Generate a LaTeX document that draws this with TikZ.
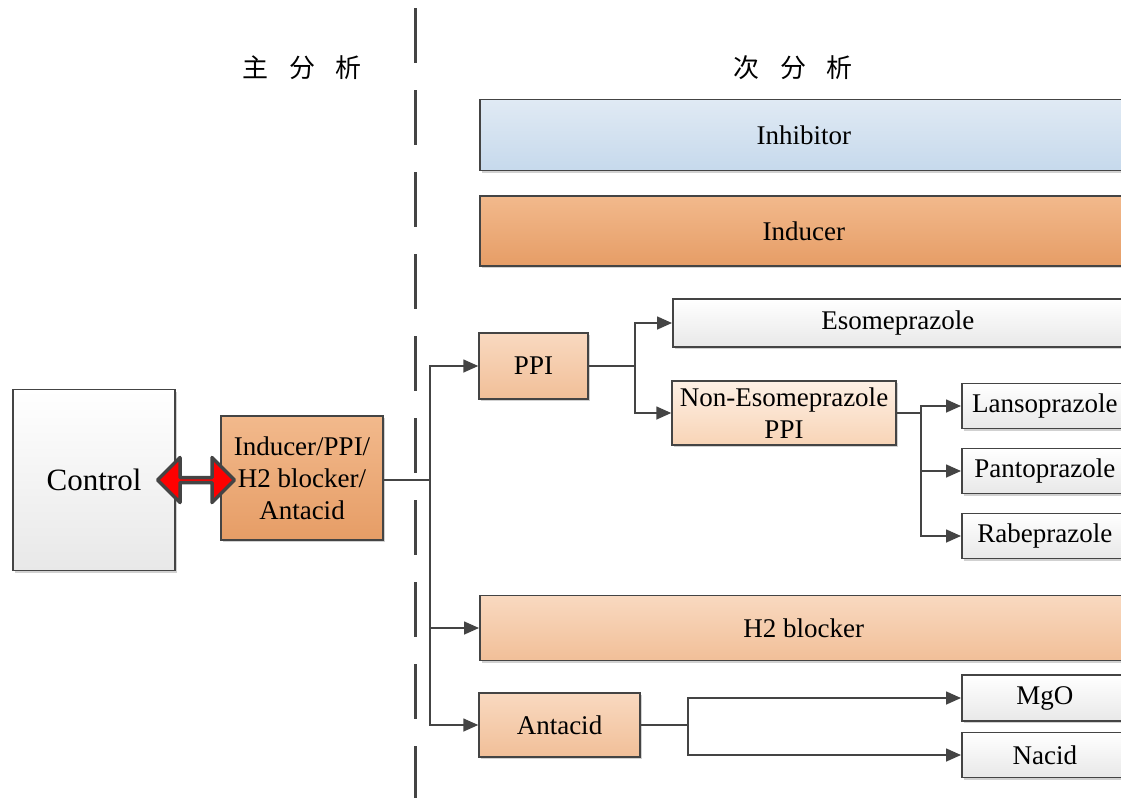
\documentclass[tikz,border=0pt]{standalone}
\usepackage{fontspec}
\setmainfont{Liberation Serif}
\newfontfamily\cjk[WordSpace=3.5]{Noto Sans CJK SC}
\usetikzlibrary{arrows.meta,shapes.arrows,shadows}
\definecolor{lineg}{HTML}{444444}
\definecolor{blueT}{HTML}{E0EAF4}
\definecolor{blueB}{HTML}{C6D9EC}
\definecolor{darkT}{HTML}{F2B98C}
\definecolor{darkB}{HTML}{E69D66}
\definecolor{midT}{HTML}{F9D9C0}
\definecolor{midB}{HTML}{F1BF98}
\definecolor{lightT}{HTML}{FDF0E5}
\definecolor{lightB}{HTML}{F8D4B6}
\tikzset{
  box/.style={draw=lineg, line width=1.5pt, inner sep=2pt, align=center,
    font=\fontsize{27}{32}\selectfont,
    drop shadow={shadow xshift=2pt, shadow yshift=-2pt, opacity=0.18, fill=black}},
  graybox/.style={box, top color=white, bottom color=black!9},
  bluebox/.style={box, top color=blueT, bottom color=blueB},
  darkbox/.style={box, top color=darkT, bottom color=darkB},
  midbox/.style={box, top color=midT, bottom color=midB},
  lightbox/.style={box, top color=lightT, bottom color=lightB},
  arr/.style={-{Triangle[length=15pt,width=13pt]}, draw=lineg, line width=1.6pt},
  con/.style={draw=lineg, line width=1.6pt},
  fatarrow/.style={double arrow, fill=red, draw=lineg, line width=3.5pt, line join=round,
    inner sep=0pt, minimum width=45pt, double arrow head extend=14pt}
}
\begin{document}
\begin{tikzpicture}[x=1pt,y=-1pt]
  \useasboundingbox (0,0) rectangle (1121,798);
  \draw[lineg, line width=3pt, dash pattern=on 55pt off 27pt] (415,8) -- (415,798);
  \node[font=\cjk\fontsize{26}{30}\selectfont] (mainlab) at (302,68) {主 分 析};
  \node[font=\cjk\fontsize{26}{30}\selectfont] (sublab) at (793,68) {次 分 析};
  % left part
  \node[graybox, minimum width=162pt, minimum height=181pt, font=\fontsize{31}{35}\selectfont] (ctrl) at (94,480) {Control};
  \node[darkbox, minimum width=162pt, minimum height=124pt, inner sep=0pt] (main) at (302,478) {Inducer/PPI/\\H2 blocker/\\Antacid};
  \node[fatarrow, minimum height=77pt] (dbl) at (196,480) {};
  % right part
  \node[bluebox, anchor=west, minimum width=648pt, minimum height=71pt] (inh) at (479,135) {Inhibitor};
  \node[darkbox, anchor=west, minimum width=648pt, minimum height=70pt] (ind) at (479,231) {Inducer};
  \node[midbox, minimum width=109pt, minimum height=66pt] (ppi) at (533.5,366) {PPI};
  \node[graybox, anchor=west, minimum width=450pt, minimum height=48pt] (eso) at (672,323) {Esomeprazole};
  \node[lightbox, minimum width=224pt, minimum height=64pt, inner sep=0pt] (neso) at (784,413) {Non-Esomeprazole\\PPI};
  \node[graybox, anchor=west, minimum width=166pt, minimum height=45pt] (lan) at (961,406) {Lansoprazole};
  \node[graybox, anchor=west, minimum width=166pt, minimum height=45pt] (pan) at (961,471) {Pantoprazole};
  \node[graybox, anchor=west, minimum width=166pt, minimum height=45pt] (rab) at (961,536) {Rabeprazole};
  \node[midbox, anchor=west, minimum width=648pt, minimum height=65pt] (h2) at (479,628) {H2 blocker};
  \node[midbox, minimum width=161pt, minimum height=64pt] (ant) at (559.5,725) {Antacid};
  \node[graybox, anchor=west, minimum width=166pt, minimum height=46pt] (mgo) at (961,698) {MgO};
  \node[graybox, anchor=west, minimum width=166pt, minimum height=45pt] (nac) at (961,755) {Nacid};
  % junctions
  \coordinate (j1) at (430,480);
  \coordinate (j2) at (635,366);
  \coordinate (j3) at (921,413);
  \coordinate (j4) at (688,725);
  \path[con] (main.east |- j1) -- (j1);
  \path[arr] (j1) |- (ppi);
  \path[arr] (j1) |- (h2);
  \path[arr] (j1) |- (ant);
  \path[con] (ppi) -- (j2);
  \path[arr] (j2) |- (eso);
  \path[arr] (j2) |- (neso);
  \path[con] (neso) -- (j3);
  \path[arr] (j3) |- (lan);
  \path[arr] (j3) |- (pan);
  \path[arr] (j3) |- (rab);
  \path[con] (ant) -- (j4);
  \path[arr] (j4) |- (mgo);
  \path[arr] (j4) |- (nac);
\end{tikzpicture}
\end{document}
